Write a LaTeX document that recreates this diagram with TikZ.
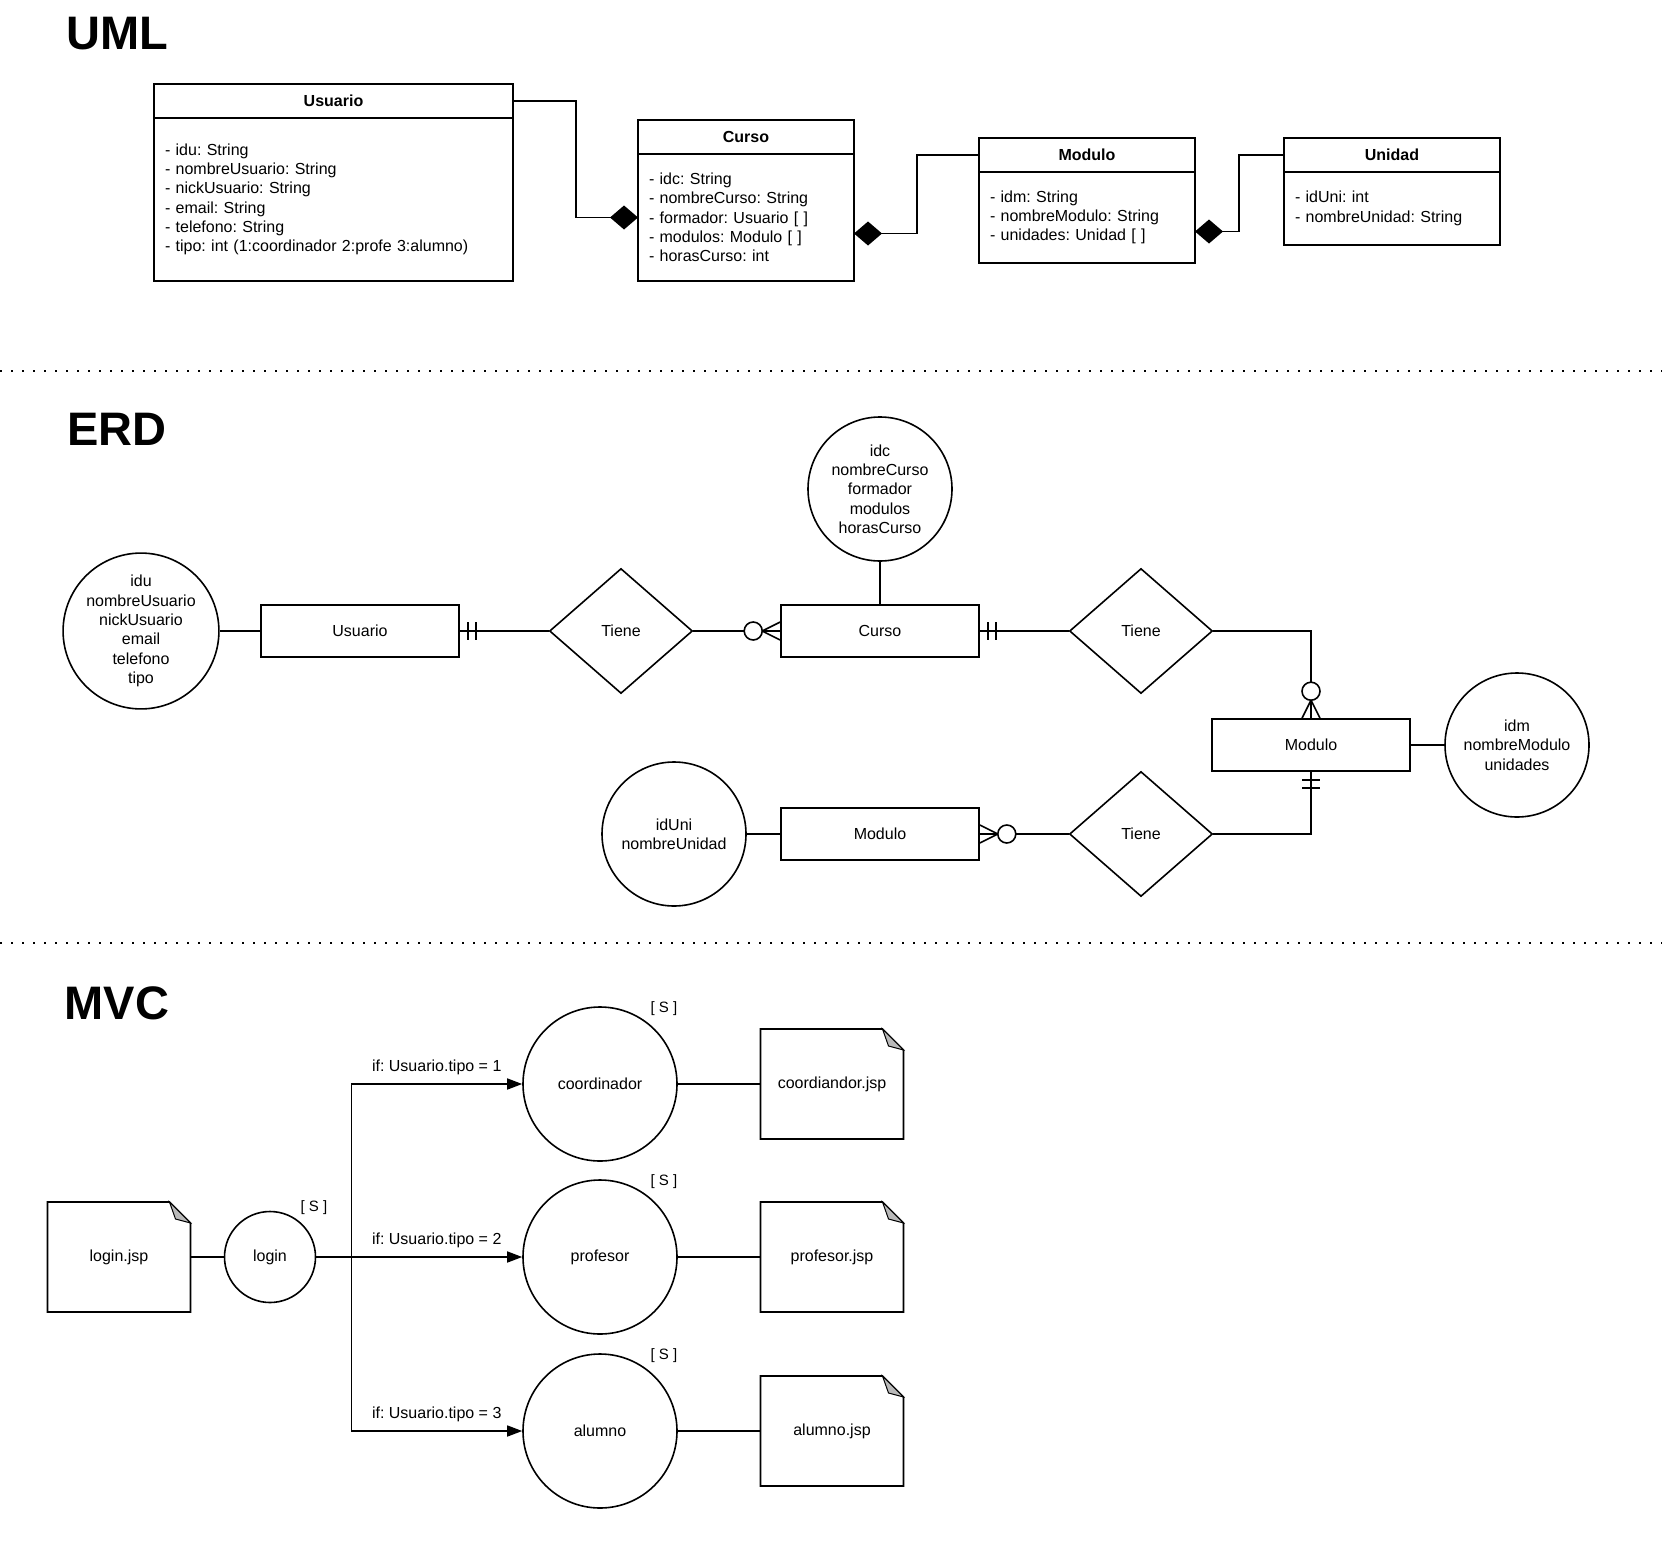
\documentclass[tikz,border=0pt]{standalone}
\usepackage{fontspec}
\setmainfont{Liberation Sans}
\usetikzlibrary{arrows.meta}
\usetikzlibrary{shapes.geometric}
\usetikzlibrary{calc}
\frenchspacing

\begin{document}
\begin{tikzpicture}[x=1pt,y=-1pt,line width=1.6pt,
    font=\fontsize{16}{19.3}\selectfont,
    title/.style={font=\fontsize{47}{50}\selectfont\bfseries},
    umlhead/.style={draw,minimum height=34pt,inner sep=0pt,outer sep=0pt,anchor=north west,font=\fontsize{16}{19.3}\selectfont\bfseries},
    umlbody/.style={draw,align=left,inner xsep=11pt,inner ysep=0pt,outer sep=0pt,anchor=north},
    entity/.style={draw,minimum width=198pt,minimum height=52pt},
    attr/.style={draw,circle,align=center,inner sep=0pt,minimum size=144pt},
    rel/.style={draw,diamond,inner sep=0pt,minimum width=143pt,minimum height=125pt},
    ctrl/.style={draw,circle,minimum size=154pt,inner sep=0pt},
    jsp/.style={minimum width=143pt,minimum height=110pt,inner sep=0pt,outer sep=0pt},
    sflag/.style={font=\fontsize{15}{18}\selectfont},
    sep/.style={line width=2pt,dash pattern=on 2pt off 9pt},
    comp/.style={-{Diamond[length=28pt,width=24pt]}},
    flow/.style={-{Triangle[length=15pt,width=11pt]}}]
    \useasboundingbox (0,0) rectangle (1662,1560);

    % UML
    \node[title] (umlT) at (117,34) {UML};
    \node[umlhead,minimum width=359pt] (usuarioH) at (154,84) {Usuario};
    \node[umlbody,text width=337pt,minimum height=163pt] (usuarioB) at (usuarioH.south) {- idu: String\\- nombreUsuario: String\\- nickUsuario: String\\- email: String\\- telefono: String\\- tipo: int (1:coordinador 2:profe 3:alumno)};
    \node[umlhead,minimum width=216pt] (cursoH) at (638,120) {Curso};
    \node[umlbody,text width=194pt,minimum height=127pt] (cursoB) at (cursoH.south) {- idc: String\\- nombreCurso: String\\- formador: Usuario [ ]\\- modulos: Modulo [ ]\\- horasCurso: int};
    \node[umlhead,minimum width=216pt] (moduloH) at (979,138) {Modulo};
    \node[umlbody,text width=194pt,minimum height=91pt] (moduloB) at (moduloH.south) {- idm: String\\- nombreModulo: String\\- unidades: Unidad [ ]};
    \node[umlhead,minimum width=216pt] (unidadH) at (1284,138) {Unidad};
    \node[umlbody,text width=194pt,minimum height=73pt] (unidadB) at (unidadH.south) {- idUni: int\\- nombreUnidad: String};

    \draw[comp] (usuarioH.east) -- ++(63,0) |- (cursoB.west);
    \draw[comp] (moduloH.west) -- ++(-62,0) |- ([yshift=-16pt]cursoB.east);
    \draw[comp] (unidadH.west) -- ++(-45,0) |- ([yshift=-14pt]moduloB.east);

    \draw[sep] (0,371) -- (1662,371);
    \draw[sep] (0,943) -- (1662,943);

    % ERD
    \node[title] (erdT) at (117,429) {ERD};
    \node[attr,minimum size=154pt] (uAttr) at (141,631) {idu\\nombreUsuario\\nickUsuario\\email\\telefono\\tipo};
    \node[entity] (usuarioE) at (360,631) {Usuario};
    \node[rel] (tiene1) at (621,631) {Tiene};
    \node[entity] (cursoE) at (880,631) {Curso};
    \node[attr] (cAttr) at (880,489) {idc\\nombreCurso\\formador\\modulos\\horasCurso};
    \node[rel] (tiene2) at (1141,631) {Tiene};
    \node[entity] (moduloE) at (1311,745) {Modulo};
    \node[attr] (mAttr) at (1517,745) {idm\\nombreModulo\\unidades};
    \node[rel] (tiene3) at (1141,834) {Tiene};
    \node[entity] (unidadE) at (880,834) {Modulo};
    \node[attr] (unAttr) at (674,834) {idUni\\nombreUnidad};

    \draw (uAttr) -- (usuarioE);
    \draw (usuarioE) -- (tiene1);
    \draw (tiene1) -- (cursoE);
    \draw (cAttr) -- (cursoE);
    \draw (cursoE) -- (tiene2);
    \draw (tiene2) -| (moduloE);
    \draw (mAttr) -- (moduloE);
    \draw (tiene3) -| (moduloE);
    \draw (tiene3) -- (unidadE);
    \draw (unAttr) -- (unidadE);

    % one and only one
    \foreach \s in {8,16} {
        \draw ([xshift=\s pt]usuarioE.east) ++(0,-9) -- ++(0,18);
        \draw ([xshift=\s pt]cursoE.east) ++(0,-9) -- ++(0,18);
        \draw ([yshift=-\s pt]moduloE.south) ++(-9,0) -- ++(18,0);
    }
    % zero or many
    \draw ([yshift=9pt]cursoE.west) -- ([xshift=-18pt]cursoE.west) -- ([yshift=-9pt]cursoE.west);
    \filldraw[fill=white] ([xshift=-27pt]cursoE.west) circle (9pt);
    \draw ([xshift=-9pt]moduloE.north) -- ([yshift=18pt]moduloE.north) -- ([xshift=9pt]moduloE.north);
    \filldraw[fill=white] ([yshift=27pt]moduloE.north) circle (9pt);
    \draw ([yshift=9pt]unidadE.east) -- ([xshift=18pt]unidadE.east) -- ([yshift=-9pt]unidadE.east);
    \filldraw[fill=white] ([xshift=27pt]unidadE.east) circle (9pt);

    % MVC
    \node[title] (mvcT) at (117,1003) {MVC};
    \node[jsp] (loginjsp) at (119,1257) {login.jsp};
    \node[draw,circle,minimum size=91pt,inner sep=0pt] (login) at (270,1257) {login};
    \node[ctrl] (coord) at (600,1084) {coordinador};
    \node[ctrl] (prof) at (600,1257) {profesor};
    \node[ctrl] (alum) at (600,1431) {alumno};
    \node[jsp] (coordjsp) at (832,1084) {coordiandor.jsp};
    \node[jsp] (profjsp) at (832,1257) {profesor.jsp};
    \node[jsp] (alumjsp) at (832,1431) {alumno.jsp};

    \foreach \d in {loginjsp,coordjsp,profjsp,alumjsp} {
        \draw (\d.south west) -- (\d.north west) -- ([xshift=-21pt]\d.north east) -- ([yshift=-21pt]\d.north east) -- (\d.south east) -- cycle;
        \filldraw[fill=gray!55,line width=1pt] ([xshift=-21pt]\d.north east) -- ([shift={(-15pt,-17pt)}]\d.north east) -- ([yshift=-21pt]\d.north east) -- cycle;
    }

    \node[sflag] (login-s) at ([shift={(44pt,49pt)}]login.center) {[ S ]};
    \foreach \c in {coord,prof,alum}
        \node[sflag] (\c-s) at ([shift={(64pt,75pt)}]\c.center) {[ S ]};

    \draw (loginjsp) -- (login);
    \draw[flow] (login.east) -- ++(35,0) |- (coord.west) node[pos=0.75,above=5pt] {if: Usuario.tipo = 1};
    \draw[flow] (login.east) -- ++(35,0) |- (prof.west) node[pos=0.75,above=5pt] {if: Usuario.tipo = 2};
    \draw[flow] (login.east) -- ++(35,0) |- (alum.west) node[pos=0.75,above=5pt] {if: Usuario.tipo = 3};
    \draw (coord) -- (coordjsp);
    \draw (prof) -- (profjsp);
    \draw (alum) -- (alumjsp);
\end{tikzpicture}
\end{document}
